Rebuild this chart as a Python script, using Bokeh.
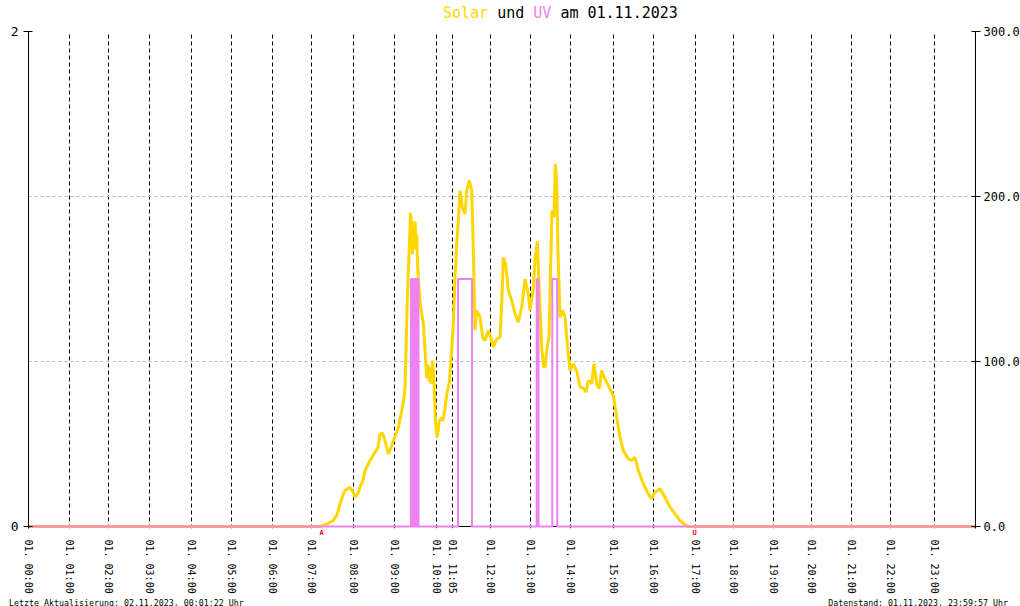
from bokeh.plotting import figure
from bokeh.layouts import column
from bokeh.models import Range1d, LinearAxis, FixedTicker, Grid, Div, Span
from bokeh.embed import file_html
from bokeh.resources import INLINE

# ---- data (x = record number along the day) ----
tick_rec = [0, 40.5, 79.8, 120.5, 162.5, 203.2, 244.2, 283.2, 325.2, 365.5, 408.0, 423.8,
            461.5, 501.5, 541.5, 584.8, 624.8, 666.5, 704.8, 744.8, 783.2, 823.2, 861.5, 905.8]
tick_labels = ["01. 00:00", "01. 01:00", "01. 02:00", "01. 03:00", "01. 04:00", "01. 05:00",
               "01. 06:00", "01. 07:00", "01. 08:00", "01. 09:00", "01. 10:00", "01. 11:05",
               "01. 12:00", "01. 13:00", "01. 14:00", "01. 15:00", "01. 16:00", "01. 17:00",
               "01. 18:00", "01. 19:00", "01. 20:00", "01. 21:00", "01. 22:00", "01. 23:00"]

solar_rec = [0, 291.5, 293.5, 298.5, 304.8, 308.5, 311.5, 314.5, 316.5, 321.5, 324.5, 326.5,
             329.5, 331.5, 334.5, 336.5, 341.5, 346.5, 349.5, 351.5, 354.2, 356.5, 359.8, 361.5,
             364.8, 367.5, 369.8, 373.2, 375.5, 376.5, 378.2, 379.5, 380.8, 382.0, 383.2, 384.0,
             384.8, 385.7, 386.5, 387.5, 388.2, 389.0, 389.8, 391.5, 393.0, 394.8, 396.5, 398.2,
             399.5, 400.8, 401.5, 402.5, 403.5, 404.2, 405.5, 406.8, 407.8, 408.8, 410.8, 413.2,
             414.5, 416.5, 418.2, 420.8, 423.2, 424.8, 426.5, 428.2, 429.8, 431.5, 432.5, 433.8,
             436.5, 438.2, 440.8, 443.2, 444.8, 446.5, 448.2, 451.5, 454.2, 456.5, 459.8, 461.5,
             464.8, 468.2, 471.5, 473.2, 474.8, 477.2, 479.8, 483.2, 486.5, 489.8, 493.2, 496.5,
             499.8, 501.5, 504.8, 506.5, 508.8, 510.8, 513.2, 515.0, 516.5, 518.2, 520.5, 522.2,
             523.5, 525.5, 526.8, 528.2, 529.5, 531.5, 534.2, 536.5, 538.8, 541.5, 544.8, 548.2,
             551.5, 554.5, 557.5, 559.8, 563.2, 565.5, 568.2, 570.8, 573.2, 575.5, 579.8, 584.8,
             588.2, 591.5, 594.8, 599.8, 603.2, 606.5, 609.8, 614.8, 619.8, 623.2, 626.5, 631.5,
             636.5, 641.5, 646.5, 651.5, 656.5, 659.8, 947]
solar_wm2 = [0, 0, 0.5, 1.5, 3.6, 7, 13.7, 19, 21.8, 23.8, 21, 17.8,
             20, 23.8, 28, 33.9, 40, 45, 48, 56, 56.5, 52, 44, 46,
             52, 56, 60, 70, 78, 84, 123, 150, 169, 190, 183, 165,
             180, 168, 185, 172, 177, 160, 151, 137, 130, 123, 107, 90,
             98, 88, 96.5, 86.6, 95, 100.6, 87, 66, 58, 54, 64, 66,
             64, 72, 80, 87, 107, 123, 151, 171, 185, 203.6, 200, 193.5,
             189.5, 203.6, 209.7, 203.6, 169, 118.8, 131, 127, 114.7, 112.7, 118.8, 116,
             108.7, 113.7, 114.7, 135, 163, 159, 143, 137, 129, 123.8, 132.9, 150,
             141, 131, 144, 161, 173, 143, 108.7, 97, 96.5, 106.7, 114.7, 159,
             191.5, 187.4, 219.8, 209.7, 167, 126.8, 131, 126.8, 110.7, 94.5, 98.6, 94.5,
             84.4, 84, 81.4, 88.5, 86.5, 98.6, 86.5, 83.4, 94.5, 90.5, 85.5, 79.4,
             66.2, 54.1, 46, 41, 40, 42, 34, 25.9, 19.8, 16.8, 20.8, 22.8,
             17.8, 11.7, 7.7, 3.6, 1.2, 0, 0]

uv_rec = [0, 382.5, 383.3, 384.1, 384.9, 386.1, 386.9, 387.7, 388.5, 389.3, 390.0,
          429.5, 443.5, 508.2, 510.0, 523.8, 528.7, 947]
uv_index = [0, 1, 0, 1, 0, 1, 0, 1, 0, 1, 0,
            1, 0, 1, 0, 1, 0, 0]

sun_rec = [293, 666.2]
sun_labels = ["A", "U"]

solar_ticks = [0, 100, 200, 300]
solar_tick_labels = ["0.0", "100.0", "200.0", "300.0"]
uv_ticks = [0, 2]
uv_tick_labels = ["0", "2"]

title_parts = [("Solar", "#FFD700"), ("und", "#000000"), ("UV", "#EE82EE"), ("am 01.11.2023", "#000000")]
footer_left = "Letzte Aktualisierung: 02.11.2023, 00:01:22 Uhr"
footer_right = "Datenstand: 01.11.2023, 23:59:57 Uhr"

GOLD = "#FFD700"
VIOLET = "#EE82EE"
MONO = "DejaVu Sans Mono"

# 2 px of room below the zero line so the zero-level lines are not clipped
p = figure(frame_width=947, frame_height=497,
           x_range=Range1d(0, 947), y_range=Range1d(-0.00808, 2),
           output_backend="svg", toolbar_location=None,
           min_border_left=28, min_border_right=45, min_border_top=7, min_border_bottom=62)
p.extra_y_ranges = {"solar": Range1d(-1.212, 300)}
p.outline_line_color = None
p.background_fill_color = "white"
p.border_fill_color = "white"

# hour axis
xa = p.xaxis[0]
xa.ticker = FixedTicker(ticks=tick_rec)
xa.major_label_overrides = {t: lab for t, lab in zip(tick_rec, tick_labels)}
xa.major_label_orientation = "vertical"
xa.major_label_text_font = MONO
xa.major_label_text_font_size = "10px"
xa.major_label_text_color = "black"
xa.major_tick_out = 0
xa.major_tick_in = 0
xa.minor_tick_line_color = None
xa.major_label_standoff = 0
xa.axis_line_color = None

# sunrise / sunset marker axis (nearest the frame)
ma = LinearAxis(ticker=FixedTicker(ticks=sun_rec),
                major_label_overrides={t: lab for t, lab in zip(sun_rec, sun_labels)})
ma.major_label_text_font = MONO
ma.major_label_text_font_size = "7px"
ma.major_label_text_font_style = "bold"
ma.major_label_text_color = "red"
ma.major_tick_out = 0
ma.major_tick_in = 0
ma.minor_tick_line_color = None
ma.major_label_standoff = 0
ma.axis_line_color = None
p.below = [ma, xa]

# left axis (UV)
ya = p.yaxis[0]
ya.ticker = FixedTicker(ticks=uv_ticks)
ya.major_label_overrides = {t: lab for t, lab in zip(uv_ticks, uv_tick_labels)}
ya.major_label_text_font = MONO
ya.major_label_text_font_size = "13px"
ya.major_label_text_color = "black"
ya.major_tick_in = 4
ya.major_tick_out = 5
ya.major_label_standoff = 5
ya.minor_tick_line_color = None
ya.axis_line_color = "black"

# right axis (Solar)
ra = LinearAxis(y_range_name="solar", ticker=FixedTicker(ticks=solar_ticks),
                major_label_overrides={t: lab for t, lab in zip(solar_ticks, solar_tick_labels)})
ra.major_label_text_font = MONO
ra.major_label_text_font_size = "12px"
ra.major_label_text_color = "black"
ra.major_tick_in = 4
ra.major_tick_out = 5
ra.major_label_standoff = 3
ra.minor_tick_line_color = None
ra.axis_line_color = "black"
p.add_layout(ra, "right")

# grids
p.xgrid.visible = False
p.ygrid.visible = False
vg = Grid(dimension=0, ticker=FixedTicker(ticks=tick_rec[1:]),
          grid_line_color="black", grid_line_dash="4 3", grid_line_width=1)
hg = Grid(dimension=1, y_range_name="solar", ticker=FixedTicker(ticks=solar_ticks[1:]),
          grid_line_color="#bbbbbb", grid_line_dash="3 3", grid_line_width=1)
p.add_layout(vg)
p.add_layout(hg)

# x-axis base line at zero, under the series
p.add_layout(Span(location=0, dimension="width", line_color="black", line_width=1, level="underlay"))

# series
p.line(solar_rec, solar_wm2, y_range_name="solar", line_color=GOLD, line_width=3)
p.step(uv_rec, uv_index, mode="after", line_color=VIOLET, line_width=2)

# title and footer as HTML text
spans = " ".join('<span style="color:%s">%s</span>' % (c, t) for t, c in title_parts)
title_div = Div(
    text=('<div style="position:relative;width:1020px;height:24px;">'
          '<span style="position:absolute;left:443px;top:6px;font-family:\'DejaVu Sans Mono\';'
          'font-size:15px;line-height:15px;white-space:pre;color:#000;">%s</span></div>') % spans,
    width=1020, height=24, margin=0)
footer_div = Div(
    text=('<div style="position:relative;width:1020px;height:14px;font-family:\'DejaVu Sans Mono\';'
          'font-size:8.3px;line-height:10px;white-space:pre;color:#000;">'
          '<span style="position:absolute;left:9px;top:2px;">%s</span>'
          '<span style="position:absolute;right:12px;top:2px;">%s</span></div>')
         % (footer_left, footer_right),
    width=1020, height=14, margin=0)

layout = column(title_div, p, footer_div, spacing=0)

open("out.html", "w").write(file_html(layout, INLINE))
